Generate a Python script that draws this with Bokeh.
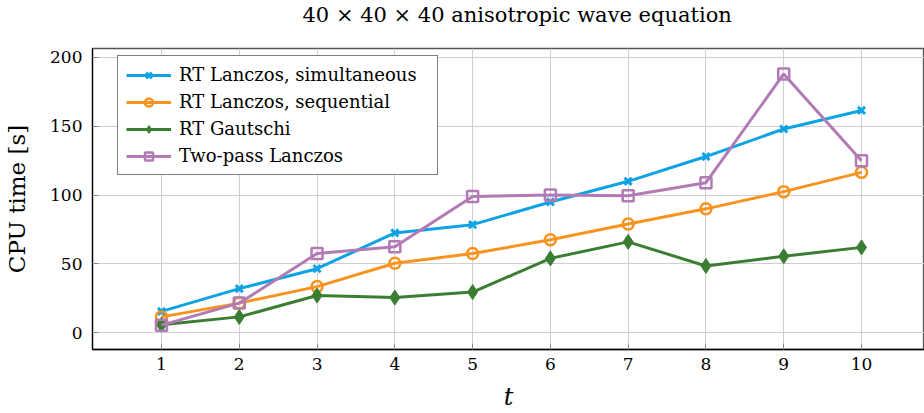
from bokeh.plotting import figure
from bokeh.models import Range1d, Legend, LegendItem, FixedTicker, Title
from bokeh.embed import file_html
from bokeh.resources import INLINE

t = [1, 2, 3, 4, 5, 6, 7, 8, 9, 10]
rt_simultaneous = [15.5, 32, 46.5, 72.5, 78.5, 95, 110, 128, 148, 161.5]
rt_sequential = [11.5, 21.5, 33.5, 50.5, 57.5, 67.5, 79, 90, 102.5, 116.5]
rt_gautschi = [5.8, 11.5, 27, 25.5, 29.5, 54, 66, 48.5, 55.5, 62]
two_pass = [5.5, 21.5, 57.5, 62.5, 99, 100, 99.5, 109, 188, 125]

y_ticks = [0, 50, 100, 150, 200]
x_ticks = t
title_text = "40 × 40 × 40 anisotropic wave equation"

FONT = "DejaVu Serif"
BLUE = "#0fa3e3"
ORANGE = "#f7931e"
GREEN = "#3b7d33"
PURPLE = "#b27bb5"

p = figure(width=924, height=413, output_backend="svg", toolbar_location=None,
           x_range=Range1d(0.113, 10.81), y_range=Range1d(-12.2, 206.5),
           min_border_left=92, min_border_right=0, min_border_top=48,
           min_border_bottom=61)

# spacer title (closest to the frame) pushes the real title to the top
p.add_layout(Title(text=" ", text_font_size="8px", standoff=10), "above")
p.add_layout(Title(text=title_text, align="left", vertical_align="middle",
                   text_font=FONT, text_font_size="21px", text_font_style="normal",
                   text_color="#000000", offset=210, standoff=0), "above")

p.xaxis.ticker = FixedTicker(ticks=x_ticks)
p.yaxis.ticker = FixedTicker(ticks=y_ticks)
for ax in (p.xaxis, p.yaxis):
    ax.major_label_text_font = FONT
    ax.major_label_text_font_size = "17px"
    ax.major_label_text_color = "#000000"
    ax.axis_label_text_font = FONT
    ax.axis_label_text_font_style = "normal"
    ax.axis_label_text_color = "#000000"
    ax.axis_line_color = "#000000"
    ax.axis_line_width = 1.3
    ax.major_tick_in = 6
    ax.major_tick_out = 0
    ax.major_tick_line_color = "#888888"
    ax.minor_tick_line_color = None
p.xaxis.axis_label = "t"
p.xaxis.axis_label_text_font_style = "italic"
p.xaxis.axis_label_text_font_size = "24px"
p.xaxis.major_label_standoff = 8
p.xaxis.axis_label_standoff = 10
p.yaxis.axis_label = "CPU time [s]"
p.yaxis.axis_label_text_font_size = "23px"
p.yaxis.major_label_standoff = 10
p.yaxis.axis_label_standoff = 17

p.grid.grid_line_color = "#cfcfcf"
p.grid.grid_line_width = 1
p.outline_line_color = "#555555"
p.outline_line_width = 1.3
p.background_fill_color = "white"
p.border_fill_color = "white"

lw = 3
r1 = p.line(t, rt_simultaneous, line_color=BLUE, line_width=lw)
m1 = p.scatter(t, rt_simultaneous, marker="x", size=10, line_color=BLUE, line_width=3)
r2 = p.line(t, rt_sequential, line_color=ORANGE, line_width=lw)
m2 = p.scatter(t, rt_sequential, marker="circle", size=11, line_color=ORANGE,
               fill_color=None, line_width=2.5)
r3 = p.line(t, rt_gautschi, line_color=GREEN, line_width=lw)
m3 = p.scatter(t, rt_gautschi, marker="diamond", size=15, line_color=GREEN,
               fill_color=GREEN, line_width=1)
r4 = p.line(t, two_pass, line_color=PURPLE, line_width=lw)
m4 = p.scatter(t, two_pass, marker="square", size=11, line_color=PURPLE,
               fill_color=None, line_width=2.5)

legend = Legend(items=[
    LegendItem(label="RT Lanczos, simultaneous", renderers=[r1, m1]),
    LegendItem(label="RT Lanczos, sequential", renderers=[r2, m2]),
    LegendItem(label="RT Gautschi", renderers=[r3, m3]),
    LegendItem(label="Two-pass Lanczos", renderers=[r4, m4]),
], location=(25, 174))
legend.label_text_font = FONT
legend.label_text_font_size = "18px"
legend.label_text_color = "#000000"
legend.glyph_width = 45
legend.glyph_height = 20
legend.label_height = 20
legend.label_width = 250
legend.spacing = 6
legend.padding = 8
legend.margin = 0
legend.label_standoff = 8
legend.border_line_color = "#000000"
legend.border_line_width = 1.2
legend.background_fill_alpha = 1.0
p.add_layout(legend)

open("out.html", "w").write(file_html(p, INLINE))
